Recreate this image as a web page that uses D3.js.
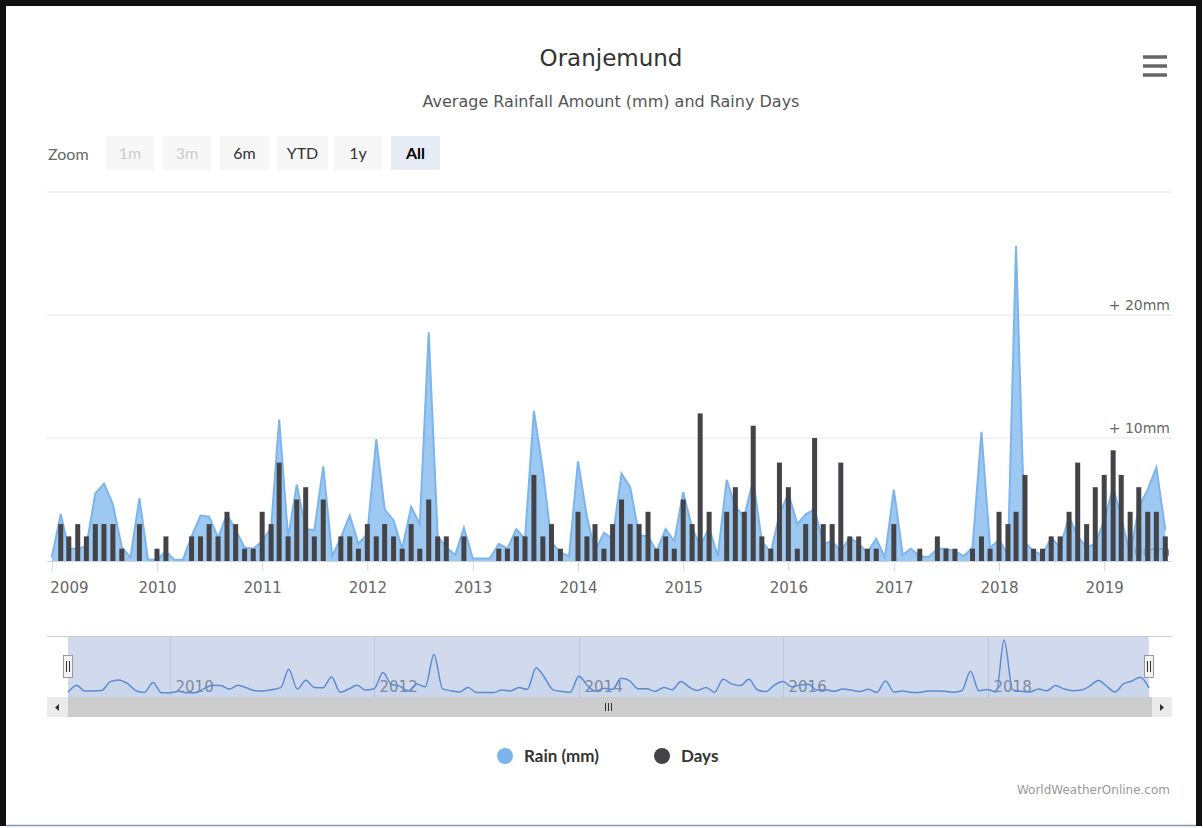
<!DOCTYPE html>
<html>
<head>
<meta charset="utf-8">
<script src="https://cdn.jsdelivr.net/npm/d3@7"></script>
<style>
  html, body { margin: 0; padding: 0; background: #fff; }
  svg { display: block; }
</style>
</head>
<body>
<svg id="chart" width="1203" height="828"></svg>
<script>
// ---------------- DATA ----------------
const firstMonth = "2009-01";
const lastMonth = "2019-08";
const yearTicks = ["2009","2010","2011","2012","2013","2014","2015","2016","2017","2018","2019"];
const navYearTicks = ["2010","2012","2014","2016","2018"];
const rainMm = [
  0.3, 3.8, 1.0, 1.0, 1.2, 5.5, 6.3, 4.6, 1.1, 0.3, 5.1, 0.1,   // 2009
  0.1, 0.8, 0.1, 0.1, 2.0, 3.7, 3.6, 1.9, 3.8, 2.5, 1.1, 1.0,   // 2010
  1.6, 2.7, 11.5, 1.9, 6.2, 2.6, 2.5, 7.7, 0.4, 1.9, 3.7, 1.4,  // 2011
  2.2, 9.9, 4.2, 3.3, 1.0, 4.4, 3.0, 18.6, 2.0, 1.1, 0.5, 2.7,  // 2012
  0.2, 0.2, 0.2, 1.4, 1.0, 2.6, 1.8, 12.2, 7.4, 1.5, 0.7, 0.4,  // 2013
  8.1, 3.6, 0.8, 2.3, 1.8, 7.1, 6.0, 2.1, 2.0, 0.8, 2.6, 1.6,   // 2014
  5.6, 2.7, 1.2, 2.7, 0.4, 6.6, 4.4, 3.6, 6.6, 1.6, 0.7, 3.8,   // 2015
  5.5, 3.0, 3.8, 4.2, 1.4, 1.6, 0.8, 1.9, 1.4, 0.7, 1.8, 0.3,   // 2016
  5.8, 0.5, 1.0, 0.4, 0.3, 1.0, 1.0, 0.8, 0.4, 1.1, 10.5, 1.1,  // 2017
  1.7, 0.5, 25.6, 1.5, 0.8, 0.5, 1.9, 1.1, 3.6, 2.0, 1.1, 1.4,  // 2018
  3.3, 6.0, 3.5, 0.5, 4.4, 5.8, 7.6, 2.5                        // 2019
];
const rainyDays = [
  0, 3, 2, 3, 2, 3, 3, 3, 1, 0, 3, 0,     // 2009
  1, 2, 0, 0, 2, 2, 3, 2, 4, 3, 1, 1,     // 2010
  4, 3, 8, 2, 5, 6, 2, 5, 0, 2, 2, 1,     // 2011
  3, 2, 3, 2, 1, 3, 1, 5, 2, 2, 0, 2,     // 2012
  0, 0, 0, 1, 1, 2, 2, 7, 2, 3, 1, 0,     // 2013
  4, 2, 3, 1, 3, 5, 3, 3, 4, 1, 2, 1,     // 2014
  5, 3, 12, 4, 0, 4, 6, 4, 11, 2, 1, 8,   // 2015
  6, 1, 3, 10, 3, 3, 8, 2, 2, 1, 1, 0,    // 2016
  3, 0, 0, 1, 0, 2, 1, 1, 0, 1, 2, 1,     // 2017
  4, 3, 4, 7, 1, 1, 2, 2, 4, 8, 3, 6,     // 2018
  7, 9, 7, 4, 6, 4, 4, 2                  // 2019
];
const zoomButtons = ["1m", "3m", "6m", "YTD", "1y", "All"];
const legendItems = ["Rain (mm)", "Days"];
const yTickValues = [0, 10, 20, 30];

// ---------------- SETUP ----------------
const parseM = d3.timeParse("%Y-%m");
const months = d3.timeMonth.range(parseM(firstMonth), d3.timeMonth.offset(parseM(lastMonth), 1));
const data = months.map((d, i) => ({ date: d, rain: rainMm[i], days: rainyDays[i] }));

const svg = d3.select("#chart");
const RAIN = "#7cb5ec", DAYS = "#434348";
const SANS = "'DejaVu Sans', sans-serif";
const UI = "Lato, 'Open Sans', sans-serif";

// frame
svg.append("rect").attr("x", 0).attr("y", 0).attr("width", 1203).attr("height", 828).attr("fill", "#fff");
svg.append("path").attr("d", "M3,826 L3,3 L1199,3 L1199,826")
  .attr("fill", "none").attr("stroke", "#111").attr("stroke-width", 6);
svg.append("line").attr("x1", 6).attr("x2", 1196).attr("y1", 825.5).attr("y2", 825.5)
  .attr("stroke", "#7f9cb8").attr("stroke-width", 1.5);

// title
svg.append("text").attr("x", 611).attr("y", 66).attr("text-anchor", "middle")
  .style("font-family", SANS).style("font-size", "23px").attr("fill", "#333").text("Oranjemund");
svg.append("text").attr("x", 611).attr("y", 107).attr("text-anchor", "middle")
  .style("font-family", SANS).style("font-size", "16px").attr("fill", "#555")
  .text("Average Rainfall Amount (mm) and Rainy Days");

// hamburger
[57, 66, 75].forEach(yy => svg.append("line").attr("x1", 1143).attr("x2", 1167)
  .attr("y1", yy).attr("y2", yy).attr("stroke", "#666").attr("stroke-width", 3.5));

// zoom buttons
svg.append("text").attr("x", 48).attr("y", 160).style("font-family", UI).style("font-size", "16px")
  .attr("fill", "#666").text("Zoom");
const btnX = [106, 163, 220, 277, 334, 391];
const btnW = [48, 48, 49, 51, 48, 49];
zoomButtons.forEach((b, i) => {
  const disabled = i < 2, selected = b === "All";
  svg.append("rect").attr("x", btnX[i]).attr("y", 136).attr("width", btnW[i]).attr("height", 34)
    .attr("fill", selected ? "#e6ebf5" : "#f7f7f7");
  svg.append("text").attr("x", btnX[i] + btnW[i] / 2).attr("y", 159).attr("text-anchor", "middle")
    .style("font-family", UI).style("font-size", "16px")
    .style("font-weight", selected ? "bold" : "normal")
    .attr("fill", disabled ? "#cccccc" : (selected ? "#000" : "#333")).text(b);
});

// ---------------- MAIN PLOT ----------------
const plotL = 47, plotR = 1172;
const x = d3.scaleTime().domain([parseM(firstMonth), parseM(lastMonth)]).range([51.8, 1165.3]);
const y = d3.scaleLinear().domain([0, 30]).range([561, 192]);

// gridlines & y labels
const gy = svg.append("g");
yTickValues.filter(v => v > 0).forEach(v => {
  gy.append("line").attr("x1", plotL).attr("x2", plotR).attr("y1", y(v)).attr("y2", y(v))
    .attr("stroke", "#e6e6e6").attr("stroke-width", 1);
});
yTickValues.filter(v => v < 30).forEach(v => {
  gy.append("text").attr("x", 1170).attr("y", y(v) - 5).attr("text-anchor", "end")
    .style("font-family", SANS).style("font-size", "14px").attr("fill", "#666")
    .text(v === 0 ? "0mm" : "+ " + v + "mm");
});

// area
const area = d3.area().x(d => x(d.date)).y0(y(0)).y1(d => y(d.rain));
const line = d3.line().x(d => x(d.date)).y(d => y(d.rain));
svg.append("path").datum(data).attr("d", area).attr("fill", RAIN).attr("fill-opacity", 0.75);
svg.append("path").datum(data).attr("d", line).attr("fill", "none").attr("stroke", RAIN).attr("stroke-width", 2);

// bars
const bw = 5;
svg.append("g").selectAll("rect").data(data.filter(d => d.days > 0)).join("rect")
  .attr("x", d => x(d.date) - bw / 2).attr("width", bw)
  .attr("y", d => y(d.days)).attr("height", d => y(0) - y(d.days))
  .attr("fill", DAYS);

// x axis
const yearDates = yearTicks.map(t => d3.timeParse("%Y")(t));
const xAxis = d3.axisBottom(x).tickValues(yearDates).tickFormat(d3.timeFormat("%Y")).tickSize(10).tickSizeOuter(0);
const gx = svg.append("g").attr("transform", "translate(0,561)").call(xAxis);
gx.select(".domain").remove();
gx.append("line").attr("x1", plotL).attr("x2", plotR).attr("y1", 0.5).attr("y2", 0.5).attr("stroke", "#ccd6eb");
gx.selectAll(".tick line").attr("stroke", "#ccd6eb");
gx.selectAll(".tick text").style("font-family", SANS).style("font-size", "15px").attr("fill", "#666").attr("dy", "1.25em");
gx.selectAll(".tick text").filter(d => d.getFullYear() === 2009).attr("text-anchor", "start").attr("x", -2);

// ---------------- NAVIGATOR ----------------
const navTop = 637, navBot = 697;
const xN = d3.scaleTime().domain([parseM(firstMonth), parseM(lastMonth)]).range([68, 1149]);
const yN = d3.scaleLinear().domain([0, 25.6]).range([693, 640]);
svg.append("line").attr("x1", plotL).attr("x2", plotR).attr("y1", 636.5).attr("y2", 636.5).attr("stroke", "#cccccc");
// grid + labels
navYearTicks.forEach(t => {
  const xx = Math.round(xN(d3.timeParse("%Y")(t))) + 0.5;
  svg.append("line").attr("x1", xx).attr("x2", xx).attr("y1", navTop).attr("y2", navBot)
    .attr("stroke", "#e6e6e6");
  svg.append("text").attr("x", xx + 5).attr("y", 692).style("font-family", SANS)
    .style("font-size", "15px").attr("fill", "#8a8a8a").text(t);
});
const navArea = d3.area().curve(d3.curveMonotoneX).x(d => xN(d.date)).y0(navBot).y1(d => yN(d.rain));
const navLine = d3.line().curve(d3.curveMonotoneX).x(d => xN(d.date)).y(d => yN(d.rain));
svg.append("path").datum(data).attr("d", navArea).attr("fill", RAIN).attr("fill-opacity", 0.08);
svg.append("path").datum(data).attr("d", navLine).attr("fill", "none").attr("stroke", "#5a8fd6").attr("stroke-width", 1.5);
// mask
svg.append("rect").attr("x", 68).attr("y", navTop).attr("width", 1149 - 68).attr("height", navBot - navTop)
  .attr("fill", "rgba(102,133,194,0.3)");
// handles
[68, 1149].forEach(hx => {
  svg.append("rect").attr("x", hx - 4.5).attr("y", 655.5).attr("width", 9).attr("height", 22)
    .attr("fill", "#f2f2f2").attr("stroke", "#999");
  [-1.5, 1.5].forEach(o => svg.append("line").attr("x1", hx + o).attr("x2", hx + o)
    .attr("y1", 661).attr("y2", 672).attr("stroke", "#333"));
});
// scrollbar
svg.append("rect").attr("x", plotL).attr("y", 697).attr("width", plotR - plotL).attr("height", 20).attr("fill", "#f2f2f2");
svg.append("rect").attr("x", 68).attr("y", 697).attr("width", 1149 - 68 + 4).attr("height", 20).attr("fill", "#cccccc");
svg.append("rect").attr("x", plotL).attr("y", 697).attr("width", 21).attr("height", 20).attr("fill", "#ebebeb");
svg.append("rect").attr("x", 1152).attr("y", 697).attr("width", 20).attr("height", 20).attr("fill", "#ebebeb");
svg.append("path").attr("d", "M59,704 L55,707.5 L59,711 Z").attr("fill", "#333");
svg.append("path").attr("d", "M1160,704 L1164,707.5 L1160,711 Z").attr("fill", "#333");
[-3, 0, 3].forEach(o => svg.append("line").attr("x1", 608.5 + o).attr("x2", 608.5 + o)
  .attr("y1", 703).attr("y2", 711).attr("stroke", "#333"));

// ---------------- LEGEND ----------------
const legX = [505, 662];
const legC = [RAIN, DAYS];
legendItems.forEach((t, i) => {
  svg.append("circle").attr("cx", legX[i]).attr("cy", 756).attr("r", 8).attr("fill", legC[i]);
  svg.append("text").attr("x", legX[i] + 19).attr("y", 762).style("font-family", UI)
    .style("font-size", "17px").style("font-weight", "bold").attr("fill", "#333").text(t);
});

// credits
svg.append("text").attr("x", 1170).attr("y", 794).attr("text-anchor", "end")
  .style("font-family", SANS).style("font-size", "12px").attr("fill", "#999").text("WorldWeatherOnline.com");
</script>
</body>
</html>
